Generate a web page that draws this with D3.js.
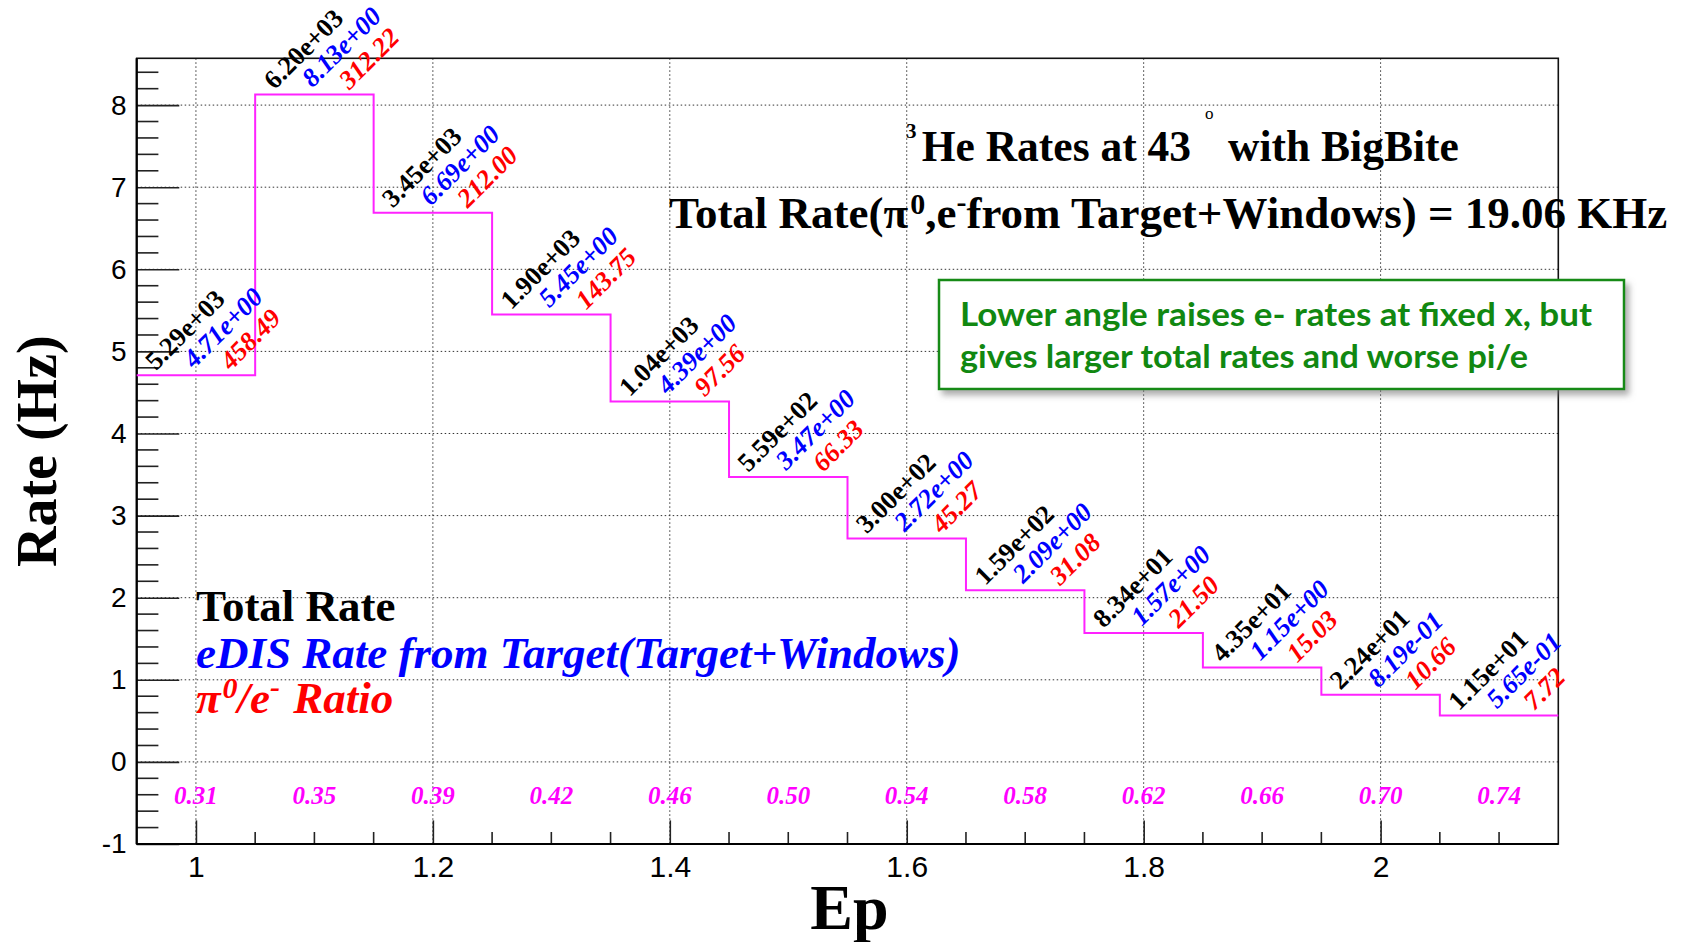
<!DOCTYPE html>
<html><head><meta charset="utf-8">
<script src="https://cdn.jsdelivr.net/npm/d3@7"></script>
<style>html,body{margin:0;padding:0;background:#fff;overflow:hidden}</style>
</head><body>
<svg id="c" width="1686" height="942" xmlns="http://www.w3.org/2000/svg"></svg>
<script>
// ---------------- data ----------------
const binCenters = [1.0, 1.1, 1.2, 1.3, 1.4, 1.5, 1.6, 1.7, 1.8, 1.9, 2.0, 2.1];
const binHalfWidth = 0.05;
const totalRate = [5290, 6200, 3450, 1900, 1040, 559, 300, 159, 83.4, 43.5, 22.4, 11.5];
const edisRate = [4.71, 8.13, 6.69, 5.45, 4.39, 3.47, 2.72, 2.09, 1.57, 1.15, 0.819, 0.565];
const pionRatio = [458.49, 312.22, 212.00, 143.75, 97.56, 66.33, 45.27, 31.08, 21.50, 15.03, 10.66, 7.72];
const xBjorken = ["0.31", "0.35", "0.39", "0.42", "0.46", "0.50", "0.54", "0.58", "0.62", "0.66", "0.70", "0.74"];
const xTickValues = [1, 1.2, 1.4, 1.6, 1.8, 2];
const xTickLabels = ["1", "1.2", "1.4", "1.6", "1.8", "2"];
const yTickValues = [-1, 0, 1, 2, 3, 4, 5, 6, 7, 8];
const yTickLabels = ["-1", "0", "1", "2", "3", "4", "5", "6", "7", "8"];
const xDomain = [0.95, 2.15];
const yDomain = [-1, 8.57];

// ---------------- layout ----------------
const svg = d3.select("#c");
const L = 136.7, R = 1558.3, T = 58.3, B = 844;
const x = d3.scaleLinear().domain(xDomain).range([L, R]);
const y = d3.scaleLinear().domain(yDomain).range([B, T]);
const SERIF = "'Liberation Serif', 'Times New Roman', serif";
const SANS = "'Liberation Sans', Arial, Helvetica, sans-serif";

const defs = svg.append("defs");
const f = defs.append("filter").attr("id", "sh").attr("x", "-10%").attr("y", "-20%").attr("width", "130%").attr("height", "160%");
f.append("feDropShadow").attr("dx", 4).attr("dy", 5).attr("stdDeviation", 3).attr("flood-color", "#777").attr("flood-opacity", 0.6);

// grid
const grid = svg.append("g").attr("stroke", "#333").attr("stroke-width", 1).attr("stroke-dasharray", "1.5,2.5");
grid.selectAll(".gx").data(xTickValues).join("line")
  .attr("x1", d => x(d)).attr("x2", d => x(d)).attr("y1", T).attr("y2", B);
grid.selectAll(".gy").data(yTickValues.filter(v => v > yDomain[0])).join("line")
  .attr("y1", d => y(d)).attr("y2", d => y(d)).attr("x1", L).attr("x2", R);

// minor ticks
const yMinor = d3.range(-1, 8.57, 0.2).map(v => +v.toFixed(2)).filter(v => Math.abs(v - Math.round(v)) > 1e-6);
const xMinor = d3.range(0.95, 2.151, 0.05).map(v => +v.toFixed(2)).filter(v => Math.abs(v * 5 - Math.round(v * 5)) > 1e-6 && v > 0.951 && v < 2.149);
const tk = svg.append("g").attr("stroke", "#222").attr("stroke-width", 1.6);
tk.selectAll(".ym").data(yMinor).join("line")
  .attr("x1", L).attr("x2", L + 21.7).attr("y1", d => y(d)).attr("y2", d => y(d));
tk.selectAll(".xm").data(xMinor).join("line")
  .attr("y1", B).attr("y2", B - 12).attr("x1", d => x(d)).attr("x2", d => x(d));

// major axes
const yAxis = d3.axisLeft(y).tickValues(yTickValues).tickSizeInner(-42.6).tickSizeOuter(0).tickPadding(10)
  .tickFormat((d, i) => yTickLabels[i]);
const gy = svg.append("g").attr("transform", `translate(${L},0)`).call(yAxis);
gy.select(".domain").remove();
gy.selectAll("line").attr("stroke", "#222").attr("stroke-width", 1.6);
gy.selectAll("text").attr("font-family", SANS).attr("font-size", 28).attr("fill", "#000");

const xAxis = d3.axisBottom(x).tickValues(xTickValues).tickSizeInner(-23.6).tickSizeOuter(0).tickPadding(12)
  .tickFormat((d, i) => xTickLabels[i]);
const gx = svg.append("g").attr("transform", `translate(0,${B})`).call(xAxis);
gx.select(".domain").remove();
gx.selectAll("line").attr("stroke", "#222").attr("stroke-width", 1.6);
gx.selectAll("text").attr("font-family", SANS).attr("font-size", 30).attr("fill", "#000");

// frame
svg.append("rect").attr("x", L).attr("y", T).attr("width", R - L).attr("height", B - T)
  .attr("fill", "none").attr("stroke", "#111").attr("stroke-width", 1.6);
svg.append("line").attr("x1", L).attr("x2", L).attr("y1", T).attr("y2", B).attr("stroke", "#000").attr("stroke-width", 2.2);
svg.append("line").attr("x1", L).attr("x2", R).attr("y1", B).attr("y2", B).attr("stroke", "#000").attr("stroke-width", 2.2);

// histogram steps
const pts = [];
binCenters.forEach((c, i) => { pts.push([c - binHalfWidth, edisRate[i]]); pts.push([c + binHalfWidth, edisRate[i]]); });
svg.append("path").attr("d", d3.line().x(d => x(d[0])).y(d => y(d[1]))(pts))
  .attr("fill", "none").attr("stroke", "#ff22ff").attr("stroke-width", 2);

// rotated value labels
function sci(v) {
  const s = v.toExponential(2);
  return s.replace(/e([+-])(\d+)$/, (m, sg, ex) => "e" + sg + (ex.length < 2 ? "0" + ex : ex));
}
const lab = svg.append("g").attr("font-family", SERIF).attr("font-weight", "bold").attr("font-size", 26.5);
function rotLabels(values, fmt, color, italic, dxp, dyp) {
  lab.append("g").selectAll("text").data(values).join("text")
    .attr("transform", (d, i) => `translate(${x(binCenters[i]) + dxp},${y(edisRate[i]) + dyp}) rotate(-45)`)
    .attr("fill", color).attr("font-style", italic ? "italic" : "normal")
    .text(d => fmt(d));
}
rotLabels(totalRate, sci, "#000", false, -40, -4);
rotLabels(edisRate, sci, "#0000ff", true, -2, -6);
rotLabels(pionRatio, d => d.toFixed(2), "#ff0000", true, 35, -4);

// x-Bjorken labels
svg.append("g").selectAll("text").data(xBjorken).join("text")
  .attr("x", (d, i) => x(binCenters[i])).attr("y", y(-0.5) + 1)
  .attr("text-anchor", "middle").attr("font-family", SERIF).attr("font-weight", "bold")
  .attr("font-style", "italic").attr("font-size", 25).attr("fill", "#ff00ff")
  .text(d => d);

// axis titles
svg.append("text").attr("x", (L + R) / 2 + 2).attr("y", 929).attr("text-anchor", "middle")
  .attr("font-family", SERIF).attr("font-weight", "bold").attr("font-size", 64).text("Ep");
svg.append("text").attr("transform", `translate(56,${(T + B) / 2}) rotate(-90)`).attr("text-anchor", "middle")
  .attr("font-family", SERIF).attr("font-weight", "bold").attr("font-size", 56).text("Rate (Hz)");

// title
const t1 = svg.append("text").attr("font-family", SERIF).attr("font-weight", "bold").attr("fill", "#000");
t1.append("tspan").attr("x", 906).attr("y", 138).attr("font-size", 21).text("3");
t1.append("tspan").attr("x", 921.7).attr("y", 161).attr("font-size", 43.5).text("He Rates at 43");
t1.append("tspan").attr("x", 1205).attr("y", 119).attr("font-size", 17).attr("font-weight", "normal").text("o");
t1.append("tspan").attr("x", 1228).attr("y", 161).attr("font-size", 43.5).text("with BigBite");

const t2 = svg.append("text").attr("x", 669).attr("y", 228).attr("font-family", SERIF).attr("font-weight", "bold").attr("font-size", 45).attr("fill", "#000");
t2.append("tspan").text("Total Rate(\u03c0");
t2.append("tspan").attr("font-size", 30).attr("dy", -14).attr("dx", 2).text("0");
t2.append("tspan").attr("dy", 14).text(",e");
t2.append("tspan").attr("font-size", 30).attr("dy", -16).text("-");
t2.append("tspan").attr("dy", 16).text("from Target+Windows) = 19.06 KHz");

// green note box
const note = svg.append("g");
note.append("rect").attr("x", 939).attr("y", 280).attr("width", 685).attr("height", 109)
  .attr("fill", "#fff").attr("stroke", "#128a12").attr("stroke-width", 2.5).attr("filter", "url(#sh)");
const noteLines = ["Lower angle raises e- rates at fixed x, but", "gives larger total rates and worse pi/e"];
const noteWidths = [632, 568];
note.selectAll(".nl").data(noteLines).join("text")
  .attr("x", 960).attr("y", (d, i) => 326 + i * 42)
  .attr("font-family", "Lato, 'Open Sans', sans-serif").attr("font-weight", "bold").attr("font-size", 32)
  .attr("fill", "#118811")
  .attr("textLength", (d, i) => noteWidths[i]).attr("lengthAdjust", "spacingAndGlyphs")
  .text(d => d);

// legend texts
const lg = svg.append("g").attr("font-family", SERIF).attr("font-weight", "bold").attr("font-size", 45);
lg.append("text").attr("x", 196).attr("y", 621).attr("fill", "#000").text("Total Rate");
lg.append("text").attr("x", 196).attr("y", 668).attr("fill", "#0000ff").attr("font-style", "italic")
  .text("eDIS Rate from Target(Target+Windows)");
const l3 = lg.append("text").attr("x", 196).attr("y", 713).attr("fill", "#ff0000").attr("font-style", "italic");
l3.append("tspan").text("\u03c0");
l3.append("tspan").attr("font-size", 30).attr("dy", -15).attr("dx", 2).text("0");
l3.append("tspan").attr("dy", 15).text("/e");
l3.append("tspan").attr("font-size", 30).attr("dy", -16).text("-");
l3.append("tspan").attr("dy", 16).attr("dx", 2).text(" Ratio");
</script>
</body></html>
